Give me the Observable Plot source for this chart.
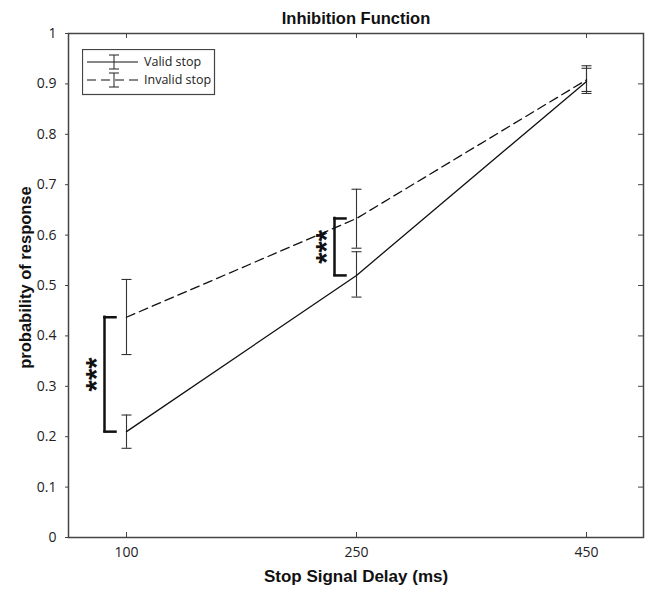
<!DOCTYPE html>
<html>
<head>
<meta charset="utf-8">
<script src="https://cdn.jsdelivr.net/npm/d3@7"></script>
<script src="https://cdn.jsdelivr.net/npm/@observablehq/plot@0.6"></script>
<style>
  html, body { margin: 0; padding: 0; background: #fff; }
  #wrap { position: relative; width: 645px; height: 589px; }
  #legend { position: absolute; left: 82px; top: 49px; }
</style>
</head>
<body>
<div id="wrap"></div>
<script>
// ---- data ----
const titleText = "Inhibition Function";
const xLabel = "Stop Signal Delay (ms)";
const yLabel = "probability of response";
const delays = ["100", "250", "450"];
const seriesNames = ["Valid stop", "Invalid stop"];
const validMean = [0.21, 0.52, 0.905];
const validLo = [0.177, 0.477, 0.881];
const validHi = [0.243, 0.567, 0.931];
const invalidMean = [0.437, 0.633, 0.908];
const invalidLo = [0.363, 0.574, 0.885];
const invalidHi = [0.512, 0.691, 0.936];
const sigDelays = ["100", "250"];
const sigLabel = "***";
const yTicks = [0, 0.1, 0.2, 0.3, 0.4, 0.5, 0.6, 0.7, 0.8, 0.9, 1];

// ---- tables ----
const valid = delays.map((d, i) => ({delay: d, mean: validMean[i], lo: validLo[i], hi: validHi[i]}));
const invalid = delays.map((d, i) => ({delay: d, mean: invalidMean[i], lo: invalidLo[i], hi: invalidHi[i]}));
const sig = sigDelays.map(d => {
  const i = delays.indexOf(d);
  return {delay: d, a: validMean[i], b: invalidMean[i], mid: (validMean[i] + invalidMean[i]) / 2};
});
const both = valid.concat(invalid);

// custom symbols: horizontal cap centred on the point, and a bracket arm going right
const capSymbol = {draw(ctx, size) { const r = Math.sqrt(size / Math.PI); ctx.moveTo(-r, 0); ctx.lineTo(r, 0); }};
const armSymbol = {draw(ctx, size) { const r = Math.sqrt(size / Math.PI); ctx.moveTo(0, 0); ctx.lineTo(r, 0); }};

const ink = "#111";
const axisInk = "#444";
const tickFont = "'Open Sans', sans-serif";
const boldFont = "'Liberation Sans', Arial, sans-serif";

const chart = Plot.plot({
  width: 645,
  height: 589,
  marginLeft: 68,
  marginRight: 2,
  marginTop: 33,
  marginBottom: 52,
  style: {fontFamily: tickFont, fontSize: "14px", color: "#222", background: "#fff"},
  x: {type: "point", domain: delays, padding: 0.25},
  y: {domain: [0, 1]},
  marks: [
    Plot.axisX({tickSize: 0, tickPadding: 10, label: null, fontSize: 14}),
    Plot.axisY({ticks: yTicks, tickSize: 3, tickPadding: 9, label: null, fontSize: 14,
      stroke: axisInk, tickFormat: d => String(+d.toFixed(1))}),
    // inward ticks: bottom, top, right
    Plot.tickX(delays, {x: d => d, insetTop: 499, stroke: axisInk}),
    Plot.tickX(delays, {x: d => d, insetBottom: 499, stroke: axisInk}),
    Plot.tickY(yTicks, {y: d => d, insetLeft: 570, stroke: axisInk}),
    Plot.frame({stroke: axisInk, strokeWidth: 1.5}),
    // error bars
    Plot.ruleX(both, {x: "delay", y1: "lo", y2: "hi", stroke: "#333", strokeWidth: 1.1}),
    Plot.dot(both, {x: "delay", y: "lo", symbol: capSymbol, r: 5, fill: "none", stroke: "#333", strokeWidth: 1.1}),
    Plot.dot(both, {x: "delay", y: "hi", symbol: capSymbol, r: 5, fill: "none", stroke: "#333", strokeWidth: 1.1}),
    // lines
    Plot.line(valid, {x: "delay", y: "mean", stroke: ink, strokeWidth: 1.3}),
    Plot.line(invalid, {x: "delay", y: "mean", stroke: ink, strokeWidth: 1.3, strokeDasharray: "9,5"}),
    // significance brackets
    Plot.ruleX(sig, {x: "delay", y1: "a", y2: "b", dx: -22, stroke: ink, strokeWidth: 2.5, strokeLinecap: "square"}),
    Plot.dot(sig, {x: "delay", y: "a", dx: -22, symbol: armSymbol, r: 11, fill: "none", stroke: ink, strokeWidth: 2.5, strokeLinecap: "square"}),
    Plot.dot(sig, {x: "delay", y: "b", dx: -22, symbol: armSymbol, r: 11, fill: "none", stroke: ink, strokeWidth: 2.5, strokeLinecap: "square"}),
    Plot.text(sig, {x: "delay", y: "mid", text: () => sigLabel, rotate: -90, dx: -30,
      textAnchor: "middle", lineAnchor: "middle",
      fontSize: 29, fontWeight: "bold", fontFamily: boldFont, fill: ink}),
    // title and axis labels
    Plot.text([titleText], {frameAnchor: "top", dy: -15, textAnchor: "middle", lineAnchor: "middle",
      fontSize: 16.5, fontWeight: "bold", fontFamily: boldFont, fill: "#111"}),
    Plot.text([xLabel], {frameAnchor: "bottom", dy: 39, textAnchor: "middle", lineAnchor: "middle",
      fontSize: 17, fontWeight: "bold", fontFamily: boldFont, fill: "#111"}),
    Plot.text([yLabel], {frameAnchor: "left", dx: -43, dy: -8, rotate: -90, textAnchor: "middle", lineAnchor: "middle",
      fontSize: 16.5, fontWeight: "bold", fontFamily: boldFont, fill: "#111"})
  ]
});

const wrap = document.getElementById("wrap");
wrap.appendChild(chart);

// ---- legend ----
const lg = d3.create("svg").attr("id", "legend").attr("width", 134).attr("height", 47)
  .style("font-family", tickFont).style("font-size", "12.5px");
lg.append("rect").attr("x", 0.5).attr("y", 0.5).attr("width", 132).attr("height", 45)
  .attr("fill", "#fff").attr("stroke", axisInk).attr("stroke-width", 1.2);
const rows = [{y: 13, dash: null}, {y: 31, dash: "9,5"}];
rows.forEach((r, i) => {
  lg.append("line").attr("x1", 5).attr("x2", i ? 60 : 56).attr("y1", r.y).attr("y2", r.y)
    .attr("stroke", ink).attr("stroke-width", 1.2).attr("stroke-dasharray", r.dash);
  const g = lg.append("g").attr("stroke", "#333").attr("stroke-width", 1.1);
  g.append("line").attr("x1", 32).attr("x2", 32).attr("y1", r.y - 7).attr("y2", r.y + 7);
  g.append("line").attr("x1", 27).attr("x2", 37).attr("y1", r.y - 7).attr("y2", r.y - 7);
  g.append("line").attr("x1", 27).attr("x2", 37).attr("y1", r.y + 7).attr("y2", r.y + 7);
  lg.append("text").attr("x", 62).attr("y", r.y).attr("dy", "0.35em").attr("fill", "#222").text(seriesNames[i]);
});
wrap.appendChild(lg.node());
</script>
</body>
</html>
